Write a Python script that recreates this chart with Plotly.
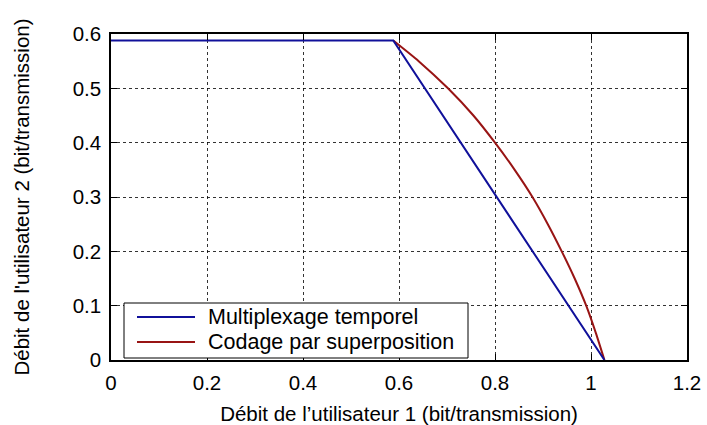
import plotly.graph_objects as go

# Time-sharing (multiplexage temporel) boundary
tdm_r1 = [0.0, 0.588, 1.028]
tdm_r2 = [0.588, 0.588, 0.0]

# Superposition coding boundary (from the corner point down to the R1 axis)
sc_r1 = [0.588, 0.641, 0.702, 0.755, 0.800, 0.841, 0.878, 0.910, 0.939, 0.966, 0.990, 1.010, 1.028]
sc_r2 = [0.588, 0.550, 0.500, 0.450, 0.400, 0.350, 0.300, 0.250, 0.200, 0.150, 0.100, 0.050, 0.0]

x_ticks = [0, 0.2, 0.4, 0.6, 0.8, 1, 1.2]
y_ticks = [0, 0.1, 0.2, 0.3, 0.4, 0.5, 0.6]
x_labels = ["0", "0.2", "0.4", "0.6", "0.8", "1", "1.2"]
y_labels = ["0", "0.1", "0.2", "0.3", "0.4", "0.5", "0.6"]

series_names = ["Multiplexage temporel", "Codage par superposition"]

FONT = "Liberation Sans, Arial, sans-serif"
BLUE = "#10109a"
RED = "#981414"
W, H = 707, 425
ML, MR, MT, MB = 111, 20, 34, 65
PW, PH = W - ML - MR, H - MT - MB


def px(x):
    return (x - ML) / PW


def py(y):
    return (H - MB - y) / PH


fig = go.Figure()
fig.add_trace(go.Scatter(x=sc_r1, y=sc_r2, mode="lines", name=series_names[1],
                         line=dict(color=RED, width=2, shape="spline", smoothing=0.6)))
fig.add_trace(go.Scatter(x=tdm_r1, y=tdm_r2, mode="lines", name=series_names[0],
                         line=dict(color=BLUE, width=2)))

axis_common = dict(
    showline=True, linecolor="black", linewidth=1.5, mirror="allticks",
    ticks="inside", ticklen=6, tickcolor="black", tickwidth=1,
    showgrid=True, gridcolor="rgba(0,0,0,0.8)", griddash="dot", gridwidth=1,
    zeroline=False, automargin=False,
    tickfont=dict(family=FONT, size=20.5, color="black"),
)

# Boxed key in the lower-left corner of the plotting area
shapes = [dict(type="rect", xref="paper", yref="paper",
               x0=px(124), x1=px(468), y0=py(358), y1=py(303),
               line=dict(color="black", width=1), fillcolor="white", layer="above")]
annotations = []
for name, color, yrow in [(series_names[0], BLUE, 317), (series_names[1], RED, 342)]:
    shapes.append(dict(type="line", xref="paper", yref="paper",
                       x0=px(137), x1=px(195), y0=py(yrow), y1=py(yrow),
                       line=dict(color=color, width=2), layer="above"))
    annotations.append(dict(text=name, xref="paper", yref="paper", x=px(206), y=py(yrow),
                            xanchor="left", yanchor="middle", showarrow=False,
                            font=dict(family=FONT, size=21.5, color="black")))

fig.update_layout(
    width=W, height=H,
    margin=dict(l=ML, r=MR, t=MT, b=MB),
    plot_bgcolor="white", paper_bgcolor="white",
    font=dict(family=FONT, size=20, color="black"),
    showlegend=False,
    shapes=shapes, annotations=annotations,
    xaxis=dict(range=[0, 1.2], tickvals=x_ticks, ticktext=x_labels, ticklabelstandoff=4,
               title=dict(text="Débit de l’utilisateur 1 (bit/transmission)", standoff=13,
                          font=dict(family=FONT, size=20.5)),
               **axis_common),
    yaxis=dict(range=[0, 0.6], tickvals=y_ticks, ticktext=y_labels, ticklabelstandoff=4,
               title=dict(text="Débit de l'utilisateur 2 (bit/transmission)", standoff=37,
                          font=dict(family=FONT, size=20.5)),
               **axis_common),
)

fig.write_html("out.html")
